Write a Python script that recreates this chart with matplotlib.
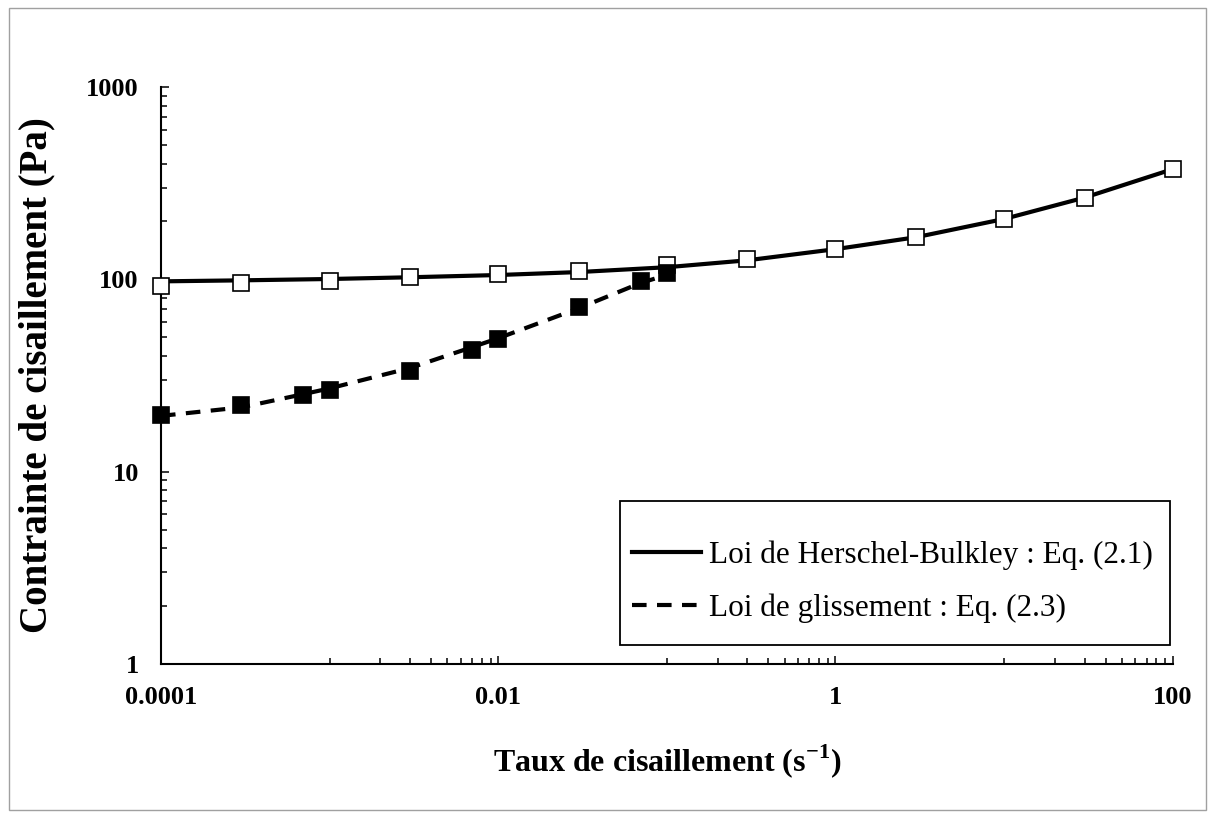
import matplotlib
matplotlib.use("Agg")
import matplotlib.pyplot as plt
from matplotlib.patches import Rectangle
from matplotlib.lines import Line2D
from matplotlib.ticker import FixedLocator, NullFormatter, FixedFormatter

##########
########## Donnees
##########

# points de mesure (carres blancs)
gam_hb = [1e-4, 3e-4, 1e-3, 3e-3, 0.01, 0.03, 0.1, 0.3, 1, 3, 10, 30, 100]
tau_hb = [92.4, 95.4, 98.4, 102.5, 106.7, 111.0, 118.8, 127.7, 143.9, 165.5, 206, 266, 374]

# courbe Herschel-Bulkley
gam_hb_mod = [1e-4, 3e-4, 1e-3, 3e-3, 0.01, 0.03, 0.1, 0.3, 1, 3, 10, 30, 100]
tau_hb_mod = [97.6, 98.8, 100.4, 102.5, 105.3, 109.1, 115.6, 125.6, 143.5, 165.5, 206, 266, 374]

# points de mesure (carres noirs)
gam_gl = [1e-4, 3e-4, 7e-4, 1e-3, 3e-3, 7e-3, 0.01, 0.03, 0.07, 0.1]
tau_gl = [19.7, 22.2, 24.9, 26.6, 33.5, 42.9, 48.8, 71.6, 98.5, 107.6]

# courbe loi de glissement
gam_gl_mod = [1e-4, 3e-4, 7e-4, 1e-3, 3e-3, 7e-3, 0.01, 0.03, 0.07, 0.1]
tau_gl_mod = [19.5, 21.6, 25.3, 27.1, 34.6, 44.4, 49.4, 70.7, 95.8, 105.4]

labels = ["Loi de Herschel-Bulkley : Eq. (2.1)", "Loi de glissement : Eq. (2.3)"]

x_major = [1e-4, 1e-2, 1, 100]
x_major_lab = ["0.0001", "0.01", "1", "100"]
y_major = [1, 10, 100, 1000]
y_major_lab = ["1", "10", "100", "1000"]

##########
########## Figure
##########

plt.rcParams["font.family"] = ["Liberation Serif", "DejaVu Serif"]
plt.rcParams["mathtext.fontset"] = "custom"
plt.rcParams["mathtext.rm"] = "Liberation Serif"
plt.rcParams["mathtext.bf"] = "Liberation Serif:bold"

fig = plt.figure(figsize=(12.15, 8.18), dpi=100)
ax = fig.add_axes([161/1215, 1-664/818, (1172.7-161)/1215, (664-87)/818])

# cadre gris autour du graphique
fig.patches.append(Rectangle((9/1215, 8/818), 1197/1215, 802/818, transform=fig.transFigure,
                             fill=False, edgecolor="#a0a0a0", lw=1.0))

ax.plot(gam_hb_mod, tau_hb_mod, color="black", lw=3, solid_capstyle="butt", zorder=2)
ax.plot(gam_gl_mod, tau_gl_mod, color="black", lw=3, linestyle=(0, (3.5, 2.5)), zorder=2)
ax.plot(gam_hb, tau_hb, ls="none", marker="s", ms=11, mfc="white", mec="black", mew=1.2,
        zorder=3, clip_on=False)
ax.plot(gam_gl, tau_gl, ls="none", marker="s", ms=11, mfc="black", mec="black", mew=1.2,
        zorder=4, clip_on=False)

ax.set_xscale("log")
ax.set_yscale("log")
ax.set_xlim(1e-4, 100)
ax.set_ylim(1, 1000)

ax.xaxis.set_major_locator(FixedLocator(x_major))
ax.xaxis.set_major_formatter(FixedFormatter(x_major_lab))
x_minor = []
for base in [1e-4, 1e-2, 1]:
	for k in range(1, 10):
		x_minor.append(base * 10 * k)
ax.xaxis.set_minor_locator(FixedLocator(x_minor))
ax.xaxis.set_minor_formatter(NullFormatter())

ax.yaxis.set_major_locator(FixedLocator(y_major))
ax.yaxis.set_major_formatter(FixedFormatter(y_major_lab))
y_minor = []
for base in [1, 10, 100]:
	for k in range(2, 10):
		y_minor.append(base * k)
ax.yaxis.set_minor_locator(FixedLocator(y_minor))
ax.yaxis.set_minor_formatter(NullFormatter())

for s in ["top", "right"]:
	ax.spines[s].set_visible(False)
for s in ["left", "bottom"]:
	ax.spines[s].set_linewidth(1.5)

ax.tick_params(which="major", direction="in", length=6, width=1.1, pad=16, labelsize=19)
ax.tick_params(which="minor", direction="in", length=4, width=1.1)
for lab in ax.get_xticklabels() + ax.get_yticklabels():
	lab.set_fontweight("bold")

ax.set_xlabel(r"Taux de cisaillement (s$^{\mathbf{-1}}$)", fontsize=23, fontweight="bold")
ax.set_ylabel("Contrainte de cisaillement (Pa)", fontsize=28, fontweight="bold")
ax.xaxis.set_label_coords(0.5, -0.135)
ax.yaxis.set_label_coords(-0.104, 0.5)

# legende dans un cadre noir
ax.add_patch(Rectangle((0.4537, 0.033), 0.544, 0.2495, transform=ax.transAxes,
                       facecolor="white", edgecolor="black", lw=1.3, zorder=5))
handles = [Line2D([], [], color="black", lw=3),
           Line2D([], [], color="black", lw=3, linestyle=(0, (3.5, 2.5)))]
leg = ax.legend(handles, labels, loc="center left", bbox_to_anchor=(0.4656, 0.143),
                frameon=False, borderpad=0, borderaxespad=0, fontsize=22.5,
                handlelength=2.2, handletextpad=0.25, labelspacing=0.75)
leg.set_zorder(6)

fig.savefig("out.png", dpi=100)
